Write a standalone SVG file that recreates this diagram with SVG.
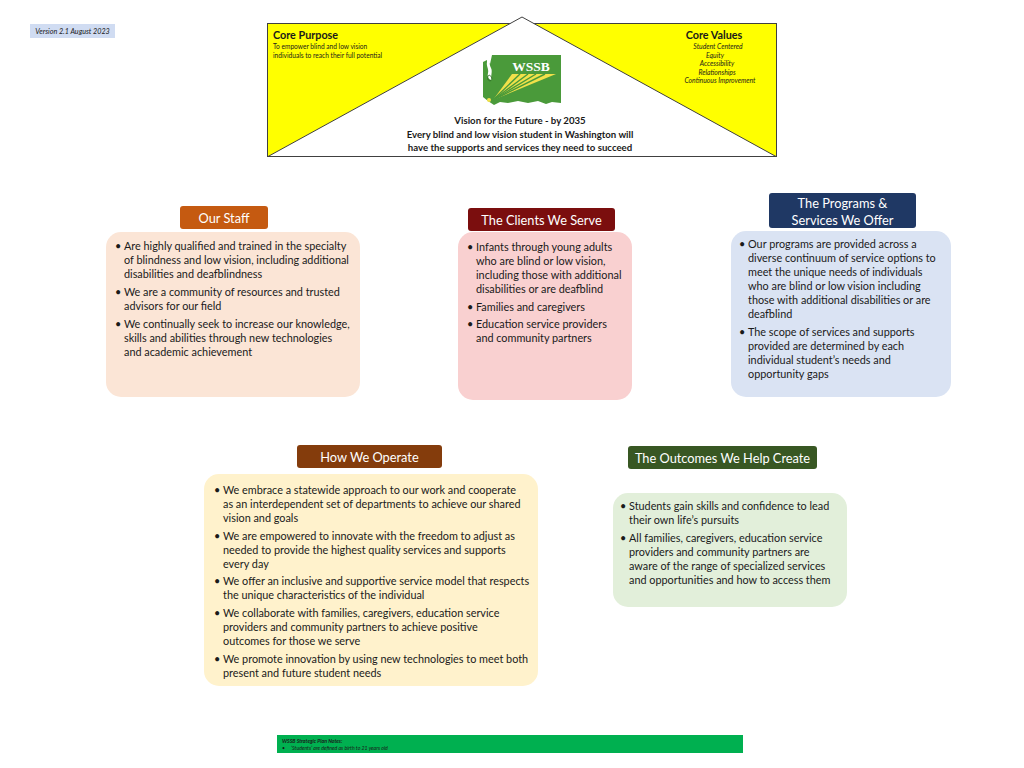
<svg xmlns="http://www.w3.org/2000/svg" width="1024" height="768" viewBox="0 0 1024 768">
<style>
text{font-family:Lato,"Open Sans","Liberation Sans",sans-serif;fill:#1a1a1a}
.hd{fill:#fff;font-size:12.8px;text-anchor:middle}
.bd{font-size:10.85px}
.b{font-weight:bold}
.it{font-style:italic}
.c{text-anchor:middle}
</style>
<rect width="1024" height="768" fill="#fff"/>
<g id="version">
<rect x="30" y="24" width="85" height="14" fill="#d0dcf2"/>
<text x="72.5" y="33.5" class="it c" font-size="7.2">Version 2.1 August 2023</text>
</g>
<g id="header">
<rect x="267.5" y="23.5" width="509" height="133" fill="#ffff00" stroke="#404040" stroke-width="1"/>
<polygon points="268,156.5 522,17 776,156.5" fill="#fff" stroke="#404040" stroke-width="1"/>
<line x1="267.5" y1="156.5" x2="776.5" y2="156.5" stroke="#404040" stroke-width="1.2"/>
<text x="273" y="39" class="b" font-size="10.8">Core Purpose</text>
<text x="273" y="49" font-size="6.6">To empower blind and low vision</text>
<text x="273" y="57.5" font-size="6.6">individuals to reach their full potential</text>
<text x="714" y="39" class="b c" font-size="10.8">Core Values</text>
<text x="718" y="49" class="it c" font-size="6.8">Student Centered</text>
<text x="715" y="57.5" class="it c" font-size="6.8">Equity</text>
<text x="717" y="66" class="it c" font-size="6.8">Accessibility</text>
<text x="717" y="74.5" class="it c" font-size="6.8">Relationships</text>
<text x="720" y="83" class="it c" font-size="6.8">Continuous Improvement</text>
<text x="520" y="124" class="b c" font-size="9.65">Vision for the Future - by 2035</text>
<text x="520" y="137.5" class="b c" font-size="9.65">Every blind and low vision student in Washington will</text>
<text x="520" y="151" class="b c" font-size="9.65">have the supports and services they need to succeed</text>
</g>
<g id="logo">
<path d="M483,62 L487,60 L490,64 L492,55 L561,55 L561,103 L552,102 L546,104 L538,101 L528,103 L518,101 L508,103 L500,102 L494,105 L488,101 L483,97 Z" fill="#4a9a3a"/>
<path d="M487,58 C490,60 489,64 491,68 C493,72 490,76 492,80 C489,80 487,77 488,73 C489,69 486,66 487,62 Z" fill="#fff"/>
<path d="M489,75 C492,76 493,80 490,81 C487,80 487,77 489,75 Z" fill="none" stroke="#2d6b25" stroke-width="0.8"/>
<polygon points="493,100 512,74 556,74" fill="#f2e14a"/>
<g stroke="#4a9a3a" stroke-width="1.4">
<line x1="493" y1="100" x2="520" y2="74"/>
<line x1="493" y1="100" x2="528" y2="74"/>
<line x1="493" y1="100" x2="536" y2="74"/>
<line x1="493" y1="100" x2="545" y2="74"/>
</g>
<circle cx="489" cy="100" r="2" fill="#f2e14a"/>
<text x="531" y="71" class="c b" font-size="13.5" style="font-family:'Liberation Serif',serif;fill:#fff">WSSB</text>
</g>
<g id="connectors"></g>
<g id="our-staff">
<rect x="106" y="232" width="254" height="165" rx="15" fill="#fbe5d6"/>
<rect x="180" y="206" width="88" height="23" rx="3" fill="#c55a11"/>
<text x="224" y="222.5" class="hd">Our Staff</text>
<text class="bd">
<tspan x="115" y="250">•</tspan><tspan x="124" y="250">Are highly qualified and trained in the specialty</tspan>
<tspan x="124" y="264">of blindness and low vision, including additional</tspan>
<tspan x="124" y="278">disabilities and deafblindness</tspan>
<tspan x="115" y="296">•</tspan><tspan x="124" y="296">We are a community of resources and trusted</tspan>
<tspan x="124" y="310">advisors for our field</tspan>
<tspan x="115" y="328">•</tspan><tspan x="124" y="328">We continually seek to increase our knowledge,</tspan>
<tspan x="124" y="342">skills and abilities through new technologies</tspan>
<tspan x="124" y="356">and academic achievement</tspan>
</text>
</g>
<g id="clients">
<rect x="458" y="232" width="174" height="168" rx="15" fill="#f9d0d0"/>
<rect x="468" y="208" width="147" height="23" rx="3" fill="#7b0e0e"/>
<text x="541.5" y="224.5" class="hd">The Clients We Serve</text>
<text class="bd">
<tspan x="467" y="251">•</tspan><tspan x="476" y="251">Infants through young adults</tspan>
<tspan x="476" y="265">who are blind or low vision,</tspan>
<tspan x="476" y="279">including those with additional</tspan>
<tspan x="476" y="293">disabilities or are deafblind</tspan>
<tspan x="467" y="311">•</tspan><tspan x="476" y="311">Families and caregivers</tspan>
<tspan x="467" y="328">•</tspan><tspan x="476" y="328">Education service providers</tspan>
<tspan x="476" y="342">and community partners</tspan>
</text>
</g>
<g id="programs">
<rect x="731" y="231" width="220" height="166" rx="15" fill="#dae3f3"/>
<rect x="769" y="193" width="147" height="35" rx="3" fill="#1f3864"/>
<text x="842.5" y="208" class="hd">The Programs &amp;</text>
<text x="842.5" y="225" class="hd">Services We Offer</text>
<text class="bd">
<tspan x="739" y="248">•</tspan><tspan x="748" y="248">Our programs are provided across a</tspan>
<tspan x="748" y="262">diverse continuum of service options to</tspan>
<tspan x="748" y="276">meet the unique needs of individuals</tspan>
<tspan x="748" y="290">who are blind or low vision including</tspan>
<tspan x="748" y="304">those with additional disabilities or are</tspan>
<tspan x="748" y="318">deafblind</tspan>
<tspan x="739" y="336">•</tspan><tspan x="748" y="336">The scope of services and supports</tspan>
<tspan x="748" y="350">provided are determined by each</tspan>
<tspan x="748" y="364">individual student’s needs and</tspan>
<tspan x="748" y="378">opportunity gaps</tspan>
</text>
</g>
<g id="operate">
<rect x="204" y="474" width="334" height="212" rx="15" fill="#fff2cc"/>
<rect x="297" y="445" width="145" height="23" rx="3" fill="#843c0c"/>
<text x="369.5" y="461.5" class="hd">How We Operate</text>
<text class="bd">
<tspan x="214" y="494">•</tspan><tspan x="223" y="494">We embrace a statewide approach to our work and cooperate</tspan>
<tspan x="223" y="508">as an interdependent set of departments to achieve our shared</tspan>
<tspan x="223" y="522">vision and goals</tspan>
<tspan x="214" y="540">•</tspan><tspan x="223" y="540">We are empowered to innovate with the freedom to adjust as</tspan>
<tspan x="223" y="554">needed to provide the highest quality services and supports</tspan>
<tspan x="223" y="568">every day</tspan>
<tspan x="214" y="585">•</tspan><tspan x="223" y="585">We offer an inclusive and supportive service model that respects</tspan>
<tspan x="223" y="599">the unique characteristics of the individual</tspan>
<tspan x="214" y="617">•</tspan><tspan x="223" y="617">We collaborate with families, caregivers, education service</tspan>
<tspan x="223" y="631">providers and  community partners to achieve positive</tspan>
<tspan x="223" y="645">outcomes for those we serve</tspan>
<tspan x="214" y="663">•</tspan><tspan x="223" y="663">We promote innovation by using new technologies to meet both</tspan>
<tspan x="223" y="677">present and future student needs</tspan>
</text>
</g>
<g id="outcomes">
<rect x="613" y="493" width="234" height="114" rx="15" fill="#e2efda"/>
<rect x="628" y="446" width="189" height="23" rx="3" fill="#385723"/>
<text x="722.5" y="462.5" class="hd">The Outcomes We Help Create</text>
<text class="bd">
<tspan x="620" y="510">•</tspan><tspan x="629" y="510">Students gain skills and confidence to lead</tspan>
<tspan x="629" y="524">their own life’s pursuits</tspan>
<tspan x="620" y="542">•</tspan><tspan x="629" y="542">All families, caregivers, education service</tspan>
<tspan x="629" y="556">providers and community partners are</tspan>
<tspan x="629" y="570">aware of the range of specialized services</tspan>
<tspan x="629" y="584">and opportunities and how to access them</tspan>
</text>
</g>
<g id="notes">
<rect x="277" y="735" width="466" height="18" fill="#00b050"/>
<text x="282" y="743" class="b it" font-size="5.2">WSSB Strategic Plan Notes:</text>
<text x="282" y="750" class="it" font-size="5.2">•</text>
<text x="291" y="750" class="it" font-size="5.2">‘Students’ are defined as birth to 21 years old</text>
</g>
</svg>
